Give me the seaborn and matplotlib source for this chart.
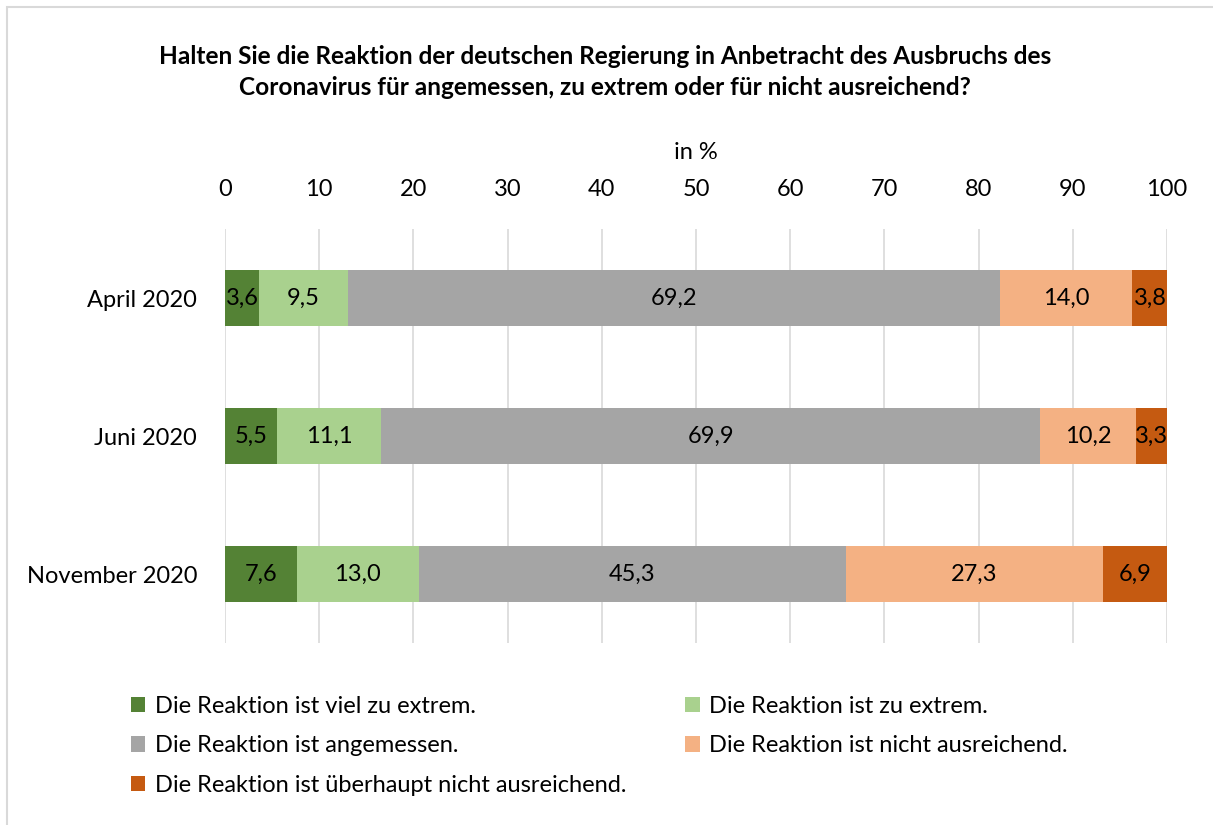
import pandas as pd
import seaborn as sns
import matplotlib.pyplot as plt
from matplotlib.patches import Patch, Rectangle

# ==============================================================================
# DATA
# ==============================================================================
periods = ["April 2020", "Juni 2020", "November 2020"]
answers = [
    "Die Reaktion ist viel zu extrem.",
    "Die Reaktion ist zu extrem.",
    "Die Reaktion ist angemessen.",
    "Die Reaktion ist nicht ausreichend.",
    "Die Reaktion ist überhaupt nicht ausreichend.",
]
viel_zu_extrem = [3.6, 5.5, 7.6]
zu_extrem = [9.5, 11.1, 13.0]
angemessen = [69.2, 69.9, 45.3]
nicht_ausreichend = [14.0, 10.2, 27.3]
ueberhaupt_nicht = [3.8, 3.3, 6.9]
colors = ["#548235", "#A9D18E", "#A5A5A5", "#F4B183", "#C55A11"]

df = pd.DataFrame({
    "Zeitraum": periods,
    answers[0]: viel_zu_extrem,
    answers[1]: zu_extrem,
    answers[2]: angemessen,
    answers[3]: nicht_ausreichend,
    answers[4]: ueberhaupt_nicht,
})
cum = df[answers].cumsum(axis=1)

# ==============================================================================
# PLOT
# ==============================================================================
sns.set_theme(style="white", rc={"text.color": "black", "xtick.color": "black",
                                 "ytick.color": "black", "axes.labelcolor": "black"})
plt.rcParams["font.family"] = ["Lato", "DejaVu Sans"]
FS = 17

fig = plt.figure(figsize=(12.13, 8.25), dpi=100)
ax = fig.add_axes([0.1855, 0.2206, 0.7766, 0.5018])

# stacked bars: draw cumulative layers, widest first
for ans, col in reversed(list(zip(answers, colors))):
    sns.barplot(x=cum[ans], y=df["Zeitraum"], orient="h", color=col,
                width=0.41, saturation=1, linewidth=0, ax=ax, zorder=2)

# segment labels
for i in range(len(periods)):
    for ans in answers:
        v = df.loc[i, ans]
        mid = cum.loc[i, ans] - v / 2
        ax.text(mid, i, f"{v:.1f}".replace(".", ","), ha="center", va="center",
                fontsize=FS, color="black", zorder=3)

ax.set_xlim(0, 100)
ax.set_ylim(2.5, -0.5)
ax.set_xticks(range(0, 101, 10))
ax.xaxis.tick_top()
ax.xaxis.set_label_position("top")
ax.set_xlabel("in %", fontsize=FS, labelpad=14)
ax.set_ylabel("")
ax.tick_params(axis="x", labelsize=FS, pad=21, length=0)
ax.tick_params(axis="y", labelsize=FS, pad=20, length=0)
ax.grid(axis="x", color="#D9D9D9", linewidth=1.2, zorder=0)
ax.set_axisbelow(True)
for s in ax.spines.values():
    s.set_visible(False)

fig.text(0.499, 0.913, "Halten Sie die Reaktion der deutschen Regierung in Anbetracht des Ausbruchs des\n"
         "Coronavirus für angemessen, zu extrem oder für nicht ausreichend?",
         ha="center", va="center", fontsize=17.6, fontweight="bold", linespacing=1.45)

# legend, row-wise ordering in two columns
handles = [Patch(facecolor=c, edgecolor="none") for c in colors]
order = [0, 2, 4, 1, 3]
fig.legend([handles[k] for k in order], [answers[k] for k in order],
           ncol=2, loc="upper left", bbox_to_anchor=(0.100, 0.168),
           frameon=False, fontsize=FS, handlelength=0.62, handleheight=0.62,
           handletextpad=0.4, columnspacing=2.5, labelspacing=0.78, borderaxespad=0)

# chart border
fig.patches.append(Rectangle((0.006, -0.01), 1.0, 1.001, transform=fig.transFigure,
                             fill=False, edgecolor="#D9D9D9", linewidth=1.5))

fig.savefig("out.png", dpi=100)
